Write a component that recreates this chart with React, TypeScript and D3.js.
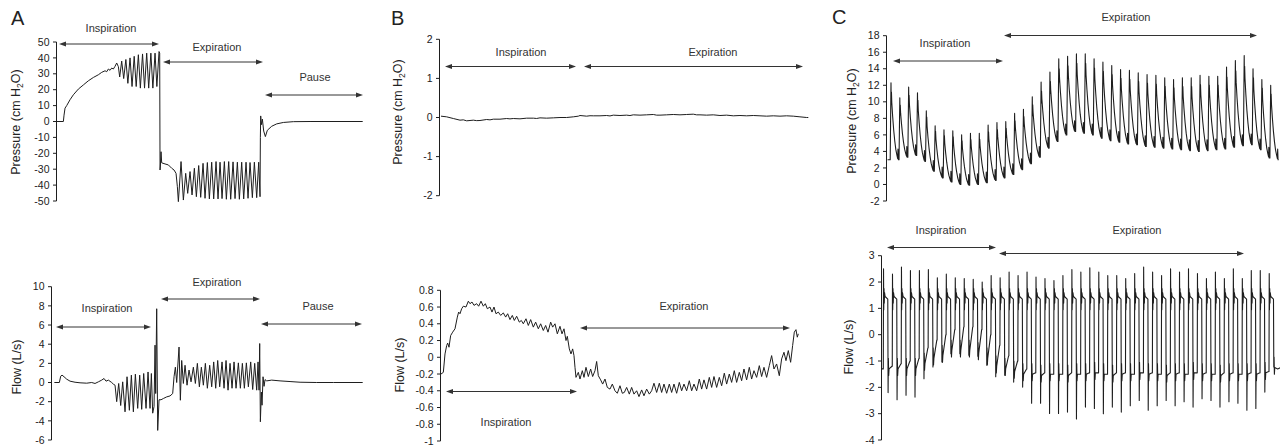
import React from 'react';
import * as d3 from 'd3';

type Pt = [number, number];

// ---- panel A (time in samples, pressure cm H2O / flow L/s) ----
const aPressure: Pt[] = [
  [0, 0], [20, 0], [22, 4], [25, 8.4], [30, 10], [40, 13.7], [50, 16.8], [65, 20.4], [80, 23], [95, 25.6],
  [110, 27.7], [125, 29.4], [135, 30.9], [145, 31.9], [150, 31.3], [155, 33], [160, 32.2], [165, 33.6], [170, 33],
  [175, 34.7], [180, 36.8], [185, 34.5], [189, 28], [195, 38], [201, 27], [207.5, 39], [213.5, 24], [220, 40],
  [226, 22], [232.5, 41], [238.5, 22], [245, 42], [251, 21], [257.5, 42.5], [263.5, 21], [270, 43], [276, 21],
  [282.5, 43], [288.5, 21], [295, 43], [300.5, 22], [307, 44], [309, 43], [310, -30.5], [311, -28], [313, -19],
  [315, -26], [325, -26.7], [335, -27.3], [345, -29.4], [352, -30.5], [358, -32.6], [362, -41], [365, -50.4],
  [373, -25.2], [380, -49.4], [387, -32.6], [393, -45.2], [400, -31.5], [406, -46.2], [413, -29.4], [419, -47.3],
  [426, -27.7], [432, -47.7], [439, -26.3], [445, -48.3], [452, -25.8], [458, -48.7], [465, -25.6], [471, -48.7],
  [478, -25.2], [484, -48.7], [490, -25.6], [496, -48.5], [503, -25.2], [509, -48.9], [516, -25.2], [522, -48.9],
  [529, -25.4], [535, -48.5], [542, -25.6], [548, -48.9], [555, -25.6], [561, -48.7], [568, -25.6], [574, -48.3],
  [580, -25.8], [587, -47.9], [593, -25.6], [600, -47.9], [606, -25.6], [610, -47.3], [611, -10], [612, 3.5],
  [614, -2], [617, 1.5], [621, -6], [626, -9.5], [632, -5.5], [645, -3], [660, -1.5], [680, -0.6], [710, -0.1],
  [760, 0], [918, 0],
];

const aFlow: Pt[] = [
  [-7, 0], [8, 0], [12, 0.66], [16, 0.77], [22, 0.6], [30, 0.35], [40, 0.14], [55, 0.03], [70, -0.03], [90, -0.07],
  [105, 0], [115, -0.1], [125, 0.07], [135, 0.25], [142, 0.42], [148, 0.14], [155, 0.25], [165, 0], [170, -0.17],
  [175, -0.28], [180, -2.0], [186, -0.1], [192, -2.4], [198, 0.07], [205, -3.06], [211, 0.6], [218, -2.9],
  [224, 0.77], [230, -3.06], [236, 0.87], [243, -2.7], [249, 0.77], [255, -2.8], [261, 0.94], [268, -2.7],
  [274, 1.1], [280, -2.7], [284, 0.94], [288, -3.2], [292, -2.5], [295, 3.9], [297, -1.15], [300, 7.7], [303, -5.0],
  [307, -1.8], [313, -1.8], [320, -1.67], [330, -1.5], [340, -1.4], [348, -1.15], [352, 0.6], [356, 1.6], [360, 0],
  [367, 3.7], [371, -1.85], [375, 2.3], [380, -0.1], [385, 1.8], [391, -0.28], [397, 1.3], [403, 0.07], [410, 1.6],
  [416, -0.1], [422, 2.0], [428, -0.45], [434, 1.6], [440, -0.28], [446, 2.0], [452, -0.6], [459, 1.8], [465, -0.45],
  [471, 2.15], [477, -0.6], [483, 2.3], [489, -0.45], [496, 2.15], [502, -0.6], [508, 2.3], [514, -0.8], [520, 2.0],
  [526, -0.6], [532, 2.15], [538, -0.6], [545, 2.05], [551, -0.6], [557, 2.0], [563, -0.6], [569, 2.05], [575, -0.45],
  [582, 2.15], [588, -0.73], [594, 2.0], [600, -0.8], [604, 2.15], [607, -0.8], [609, 4.07], [611, -4.1], [614, -1.0],
  [616, -2.37], [619, 0.6], [622, -0.4], [625, 0.3], [630, 0.17], [645, 0.25], [670, 0.17], [700, 0.1], [730, 0.03],
  [780, 0], [830, 0], [918, 0],
];

// ---- panel B ----
const bPressure: Pt[] = [
  [0, 0.034], [17, 0.017], [37, -0.026], [57, -0.068], [67, -0.06], [77, -0.085], [97, -0.068], [107, -0.08],
  [117, -0.077], [137, -0.051], [147, -0.06], [157, -0.043], [177, -0.043], [197, -0.026], [207, -0.035],
  [217, -0.026], [237, -0.034], [257, -0.017], [277, -0.017], [287, -0.025], [297, -0.009], [317, -0.017],
  [337, -0.009], [357, 0], [377, 0], [397, 0.017], [412, 0.034], [417, 0.051], [437, 0.034], [447, 0.045],
  [457, 0.043], [477, 0.043], [497, 0.051], [507, 0.04], [517, 0.06], [537, 0.051], [557, 0.06], [567, 0.05],
  [577, 0.068], [597, 0.06], [617, 0.068], [637, 0.077], [647, 0.06], [657, 0.06], [677, 0.068], [697, 0.077],
  [717, 0.068], [737, 0.077], [757, 0.085], [767, 0.068], [777, 0.068], [797, 0.06], [817, 0.068], [837, 0.051],
  [857, 0.06], [877, 0.043], [897, 0.051], [917, 0.043], [937, 0.051], [957, 0.043], [977, 0.034], [997, 0.043],
  [1017, 0.034], [1037, 0.043], [1057, 0.034], [1077, 0.017], [1097, 0], [1102, 0],
];

const bFlow: Pt[] = [
  [0, -0.2], [7, -0.18], [12, 0.04], [17, 0.14], [20, 0.17], [24, 0.12], [29, 0.26], [35, 0.3], [42, 0.34], [49, 0.48],
  [53, 0.54], [57, 0.52], [62, 0.58], [67, 0.61], [75, 0.6], [82, 0.67], [87, 0.64], [93, 0.66], [99, 0.62],
  [107, 0.64], [113, 0.61], [120, 0.67], [127, 0.61], [133, 0.64], [139, 0.58], [147, 0.6], [153, 0.54], [159, 0.6],
  [165, 0.52], [172, 0.54], [179, 0.5], [187, 0.53], [194, 0.48], [200, 0.52], [207, 0.45], [214, 0.5], [220, 0.44],
  [227, 0.49], [235, 0.42], [241, 0.44], [247, 0.4], [255, 0.46], [262, 0.38], [269, 0.45], [277, 0.36], [284, 0.42],
  [292, 0.34], [299, 0.4], [307, 0.32], [314, 0.38], [321, 0.3], [329, 0.42], [335, 0.36], [342, 0.4], [349, 0.28],
  [357, 0.37], [363, 0.28], [369, 0.34], [375, 0.2], [379, 0.25], [385, 0.1], [390, 0.04], [395, 0.1], [399, 0.02],
  [402, -0.12], [405, -0.24], [412, -0.18], [417, -0.26], [424, -0.16], [429, -0.24], [435, -0.12], [442, -0.23],
  [449, -0.14], [455, -0.23], [462, -0.16], [467, -0.05], [472, -0.22], [479, -0.27], [485, -0.32], [492, -0.26],
  [499, -0.36], [507, -0.38], [514, -0.32], [522, -0.4], [529, -0.43], [537, -0.34], [544, -0.43], [550, -0.42],
  [557, -0.36], [565, -0.44], [572, -0.36], [579, -0.44], [587, -0.4], [594, -0.47], [602, -0.39], [609, -0.46],
  [617, -0.38], [625, -0.44], [632, -0.4], [639, -0.31], [647, -0.42], [655, -0.31], [662, -0.42], [669, -0.32],
  [677, -0.43], [685, -0.32], [692, -0.42], [699, -0.32], [707, -0.43], [715, -0.3], [722, -0.4], [729, -0.32],
  [737, -0.4], [745, -0.28], [752, -0.4], [759, -0.32], [767, -0.4], [775, -0.26], [782, -0.38], [789, -0.27],
  [797, -0.38], [805, -0.24], [812, -0.36], [819, -0.23], [827, -0.36], [835, -0.24], [842, -0.34], [850, -0.19],
  [857, -0.32], [865, -0.2], [872, -0.3], [880, -0.16], [887, -0.3], [895, -0.18], [902, -0.28], [909, -0.14],
  [917, -0.27], [925, -0.12], [932, -0.26], [939, -0.16], [947, -0.24], [955, -0.1], [962, -0.23], [969, -0.12],
  [977, -0.24], [985, -0.1], [992, 0.02], [999, -0.14], [1007, -0.08], [1015, -0.22], [1022, -0.02], [1029, 0.06],
  [1035, -0.04], [1042, 0.08], [1049, -0.06], [1055, 0.14], [1060, 0.3], [1065, 0.33], [1069, 0.24], [1072, 0.28],
];

// ---- panel C, one value per oscillation cycle ----
const cPresPeak = [
  12.3, 10.5, 11.8, 11.1, 8.9, 7.1, 6.6, 6.5, 6.0, 6.2,
  6.2, 7.2, 7.5, 7.6, 8.6, 9.1, 10.6, 12.4, 13.6, 15.2,
  15.5, 15.8, 15.8, 15.2, 14.8, 14.4, 13.9, 13.8, 13.5, 13.3,
  13.2, 12.9, 12.7, 12.9, 12.9, 13.2, 13.1, 13.1, 14.2, 15.0,
  15.6, 14.0, 12.7, 12.0,
];
const cPresTrough = [
  3.0, 3.0, 3.3, 3.5, 2.8, 1.6, 0.8, 0.3, 0.0, -0.1,
  0.0, 0.2, 0.5, 0.8, 1.2, 1.8, 2.5, 3.3, 4.4, 5.2,
  6.0, 6.4, 6.2, 6.0, 5.6, 5.3, 5.1, 4.9, 4.8, 4.6,
  4.5, 4.4, 4.3, 4.2, 4.1, 4.0, 4.1, 4.2, 4.3, 4.5,
  4.7, 4.8, 4.2, 3.2, 3.0,
];
const cFlowTop = [
  2.5, 2.3, 2.57, 2.44, 2.44, 2.47, 2.16, 2.3, 2.16, 2.13,
  2.1, 2.0, 2.25, 2.16, 2.38, 2.25, 2.38, 2.19, 2.13, 2.06,
  2.25, 2.47, 2.38, 2.54, 2.38, 2.25, 2.25, 2.13, 2.32, 2.57,
  2.38, 2.25, 2.5, 2.38, 2.5, 2.32, 2.13, 2.38, 2.13, 2.5,
  2.13, 2.44, 2.44, 2.32,
];
const cFlowBottom = [
  -2.2, -2.47, -2.3, -2.37, -1.67, -1.23, -1.04, -0.72, -0.72, -0.78,
  -0.82, -1.16, -1.6, -1.54, -1.8, -1.99, -2.6, -2.6, -2.99, -2.99,
  -2.94, -3.2, -2.75, -2.8, -3.0, -2.75, -2.94, -2.7, -2.5, -2.87,
  -2.7, -2.5, -2.7, -2.55, -2.75, -2.43, -2.5, -2.75, -2.55, -2.6,
  -2.87, -2.8, -2.18, -1.23,
];
const cFlowBase = [
  -1.3, -1.3, -1.3, -1.3, -1.1, -0.9, -0.8, -0.6, -0.6, -0.6,
  -0.7, -0.9, -1.2, -1.3, -1.4, -1.5, -1.5, -1.55, -1.5, -1.5,
  -1.55, -1.5, -1.5, -1.45, -1.5, -1.55, -1.5, -1.5, -1.45, -1.5,
  -1.5, -1.55, -1.5, -1.5, -1.45, -1.5, -1.5, -1.55, -1.5, -1.5,
  -1.5, -1.5, -1.45, -1.25,
];
const cFlowRise = [
  -1.2, -1.1, -1.0, -0.9, -0.5, -0.2, 0.0, 0.2, 0.3, 0.3,
  0.2, 0.0, -0.4, -0.8, -1.0, -1.3, -1.45, -1.45, -1.5, -1.5,
  -1.45, -1.5, -1.45, -1.45, -1.5, -1.45, -1.45, -1.5, -1.45, -1.45,
  -1.5, -1.45, -1.45, -1.5, -1.45, -1.45, -1.5, -1.45, -1.45, -1.5,
  -1.45, -1.45, -1.4, -1.3,
];
// flow level held during the positive half of each cycle (notch, then plateau)
const cFlowPlateau = [0.95, 1.75, 1.2, 1.6, 1.45, 1.35];

// ---- tick values ----
const aPresTicks = [50, 40, 30, 20, 10, 0, -10, -20, -30, -40, -50];
const aFlowTicks = [10, 8, 6, 4, 2, 0, -2, -4, -6];
const bPresTicks = [2, 1, 0, -1, -2];
const bFlowTicks = [0.8, 0.6, 0.4, 0.2, 0, -0.2, -0.4, -0.6, -0.8, -1];
const cPresTicks = [18, 16, 14, 12, 10, 8, 6, 4, 2, 0, -2];
const cFlowTicks = [3, 2, 1, 0, -1, -2, -3, -4];

const FONT = '"Liberation Sans", Arial, Helvetica, sans-serif';
const INK = '#1e1e1e';

function buildCPressure(): Pt[] {
  const pts: Pt[] = [[-0.3, cPresTrough[0]]];
  cPresPeak.forEach((pk, i) => {
    const tr = cPresTrough[i];
    const nx = cPresTrough[i + 1];
    const up = pk - tr;
    const dn = pk - nx;
    pts.push(
      [i, tr],
      [i + 0.04, tr + 0.45 * up],
      [i + 0.09, pk],
      [i + 0.115, tr + 0.72 * up],
      [i + 0.14, tr + 0.88 * up],
      [i + 0.18, nx + 0.74 * dn],
      [i + 0.28, nx + 0.56 * dn],
      [i + 0.4, nx + 0.38 * dn],
      [i + 0.52, nx + 0.24 * dn],
      [i + 0.64, nx + 0.13 * dn],
      [i + 0.76, nx + 0.06 * dn],
      [i + 0.85, nx + 0.015 * dn],
      [i + 0.88, nx + 1.3],
      [i + 0.92, nx],
    );
  });
  pts.push([44, cPresTrough[44]]);
  return pts;
}

function buildCFlow(): Pt[] {
  const pts: Pt[] = [[-0.15, cFlowBase[0]]];
  const [n1, n2, n3, n4, p1, p2] = cFlowPlateau;
  cFlowTop.forEach((top, i) => {
    const start = i === 0 ? cFlowBase[0] : cFlowRise[i - 1];
    const base = cFlowBase[i];
    pts.push(
      [i, start],
      [i + 0.025, top],
      [i + 0.05, n1],
      [i + 0.08, n2],
      [i + 0.11, n3],
      [i + 0.14, n4],
      [i + 0.2, p1],
      [i + 0.5, p2],
      [i + 0.535, cFlowBottom[i]],
      [i + 0.565, base + 0.4],
      [i + 0.6, base - 0.25],
      [i + 0.64, base],
      [i + 0.97, cFlowRise[i]],
    );
  });
  pts.push([44.3, -1.25]);
  return pts;
}

type Scale = d3.ScaleLinear<number, number>;

function YAxis({ y, x, ticks }: { y: Scale; x: number; ticks: number[] }) {
  const hi = d3.max(ticks) as number;
  const lo = d3.min(ticks) as number;
  return (
    <g>
      <line x1={x} x2={x} y1={y(hi)} y2={y(lo)} stroke={INK} strokeWidth={1} />
      {ticks.map((t) => (
        <g key={t}>
          <line x1={x - 3.5} x2={x} y1={y(t)} y2={y(t)} stroke={INK} strokeWidth={1} />
          <text x={x - 7} y={y(t)} dy="0.35em" textAnchor="end" fontSize={10.5} fill="#222">
            {String(t)}
          </text>
        </g>
      ))}
    </g>
  );
}

function Trace({ data, x, y, width = 1 }: { data: Pt[]; x: Scale; y: Scale; width?: number }) {
  const line = d3
    .line<Pt>()
    .x((d) => x(d[0]))
    .y((d) => y(d[1]));
  return <path d={line(data) ?? ''} fill="none" stroke={INK} strokeWidth={width} strokeLinejoin="round" />;
}

function Arrow({ x1, x2, y }: { x1: number; x2: number; y: number }) {
  const h = 7;
  const w = 2.6;
  return (
    <g>
      <line x1={x1 + 3} x2={x2 - 3} y1={y} y2={y} stroke="#333" strokeWidth={1} />
      <path d={`M${x1},${y}L${x1 + h},${y - w}L${x1 + h},${y + w}Z`} fill="#333" />
      <path d={`M${x2},${y}L${x2 - h},${y - w}L${x2 - h},${y + w}Z`} fill="#333" />
    </g>
  );
}

function Phase({ label, x1, x2, y, tx, ty }: { label: string; x1: number; x2: number; y: number; tx: number; ty: number }) {
  return (
    <g>
      <Arrow x1={x1} x2={x2} y={y} />
      <text x={tx} y={ty} textAnchor="middle" fontSize={11} fill="#333">
        {label}
      </text>
    </g>
  );
}

function YTitle({ cx, cy, kind }: { cx: number; cy: number; kind: 'pressure' | 'flow' }) {
  return (
    <text transform={`translate(${cx},${cy}) rotate(-90)`} textAnchor="middle" dy="0.35em" fontSize={12.5} fill="#222">
      {kind === 'pressure' ? (
        <>
          Pressure (cm H<tspan fontSize={8.5} dy={3}>2</tspan>
          <tspan dy={-3}>O)</tspan>
        </>
      ) : (
        'Flow (L/s)'
      )}
    </text>
  );
}

// phase annotations: [label, arrow x1, arrow x2, arrow y, text x, text baseline]
const phases: [string, number, number, number, number, number][] = [
  ['Inspiration', 59, 159, 44, 111, 32],
  ['Expiration', 163, 263, 62, 217, 51],
  ['Pause', 265, 363, 95, 315, 81],
  ['Inspiration', 56, 151, 327, 107, 312],
  ['Expiration', 161, 260, 299, 217, 286],
  ['Pause', 261, 362, 324, 318, 310],
  ['Inspiration', 445, 576, 66.5, 521, 56],
  ['Expiration', 584, 803, 66.5, 713, 56],
  ['Expiration', 580, 790, 328, 684, 310],
  ['Inspiration', 446, 577, 391.5, 506, 426],
  ['Inspiration', 893, 1003, 61, 945, 47],
  ['Expiration', 1004, 1257, 35.5, 1126, 21],
  ['Inspiration', 887, 996, 247.5, 941, 234],
  ['Expiration', 999, 1244, 253.5, 1137, 234],
];

export default function App() {
  const xA = d3.scaleLinear().domain([0, 918]).range([56.7, 362.7]);
  const yAp = d3.scaleLinear().domain([-50, 50]).range([201, 42]);
  const yAf = d3.scaleLinear().domain([-6, 10]).range([440, 286.7]);

  const xB = d3.scaleLinear().domain([0, 1102]).range([441, 808.3]);
  const yBp = d3.scaleLinear().domain([-2, 2]).range([195.7, 39.3]);
  const yBf = d3.scaleLinear().domain([-1, 0.8]).range([441, 290.3]);

  const xCp = d3.scaleLinear().domain([0, 43]).range([890.2, 1269.9]);
  const xCf = d3.scaleLinear().domain([0, 43]).range([883.3, 1269]);
  const yCp = d3.scaleLinear().domain([-2, 18]).range([201, 35.7]);
  const yCf = d3.scaleLinear().domain([-4, 3]).range([440, 255.7]);

  const cPressure = buildCPressure();
  const cFlow = buildCFlow();

  return (
    <svg
      width={1280}
      height={447}
      style={{ position: 'absolute', left: 0, top: 0, background: '#fff' }}
      fontFamily={FONT}
    >
      <rect width={1280} height={447} fill="#fff" />
      <text x={11} y={25} fontSize={20} fill="#222">A</text>
      <text x={391} y={25} fontSize={20} fill="#222">B</text>
      <text x={832} y={24} fontSize={20} fill="#222">C</text>

      <YAxis y={yAp} x={56.5} ticks={aPresTicks} />
      <YAxis y={yAf} x={51.5} ticks={aFlowTicks} />
      <YAxis y={yBp} x={439.5} ticks={bPresTicks} />
      <YAxis y={yBf} x={440.5} ticks={bFlowTicks} />
      <YAxis y={yCp} x={886.5} ticks={cPresTicks} />
      <YAxis y={yCf} x={881.5} ticks={cFlowTicks} />

      <YTitle cx={16} cy={122} kind="pressure" />
      <YTitle cx={17} cy={367} kind="flow" />
      <YTitle cx={398} cy={112} kind="pressure" />
      <YTitle cx={400} cy={365} kind="flow" />
      <YTitle cx={852} cy={121} kind="pressure" />
      <YTitle cx={849} cy={347} kind="flow" />

      <Trace data={aPressure} x={xA} y={yAp} />
      <Trace data={aFlow} x={xA} y={yAf} />
      <Trace data={bPressure} x={xB} y={yBp} />
      <Trace data={bFlow} x={xB} y={yBf} />
      <Trace data={cPressure} x={xCp} y={yCp} width={1.1} />
      <Trace data={cFlow} x={xCf} y={yCf} width={1.1} />

      {phases.map(([label, x1, x2, y, tx, ty], i) => (
        <Phase key={i} label={label} x1={x1} x2={x2} y={y} tx={tx} ty={ty} />
      ))}
    </svg>
  );
}
